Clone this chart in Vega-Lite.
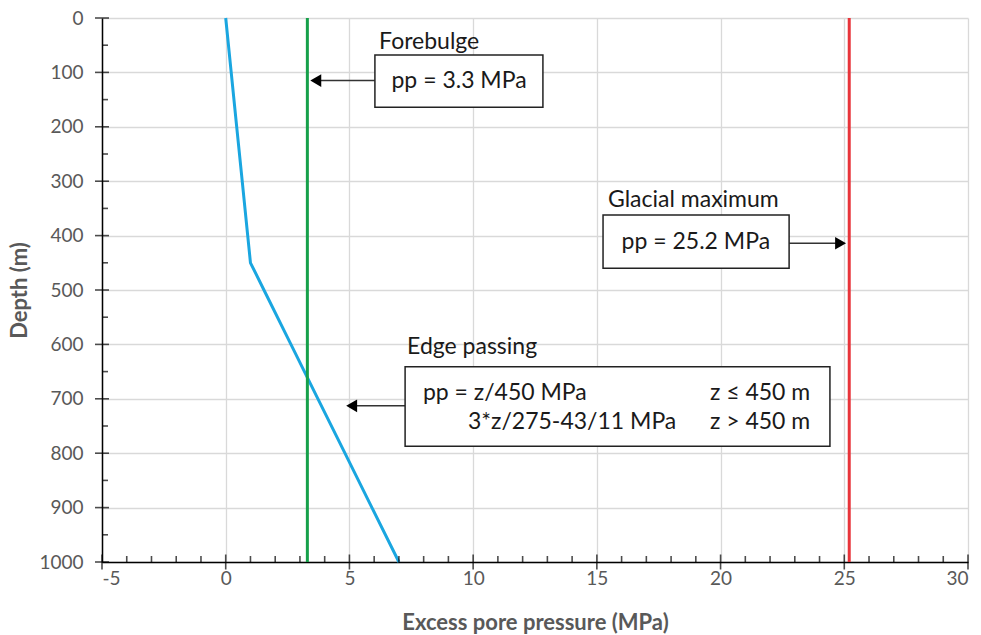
{
  "$schema": "https://vega.github.io/schema/vega-lite/v6.json",
  "width": 866,
  "height": 544,
  "autosize": {"type": "none"},
  "padding": {"left": 102, "top": 18, "right": 13, "bottom": 73},
  "background": "white",
  "config": {
    "view": {"stroke": null},
    "font": "Lato",
    "axis": {
      "domainColor": "black",
      "domainWidth": 1.5,
      "ticks": false,
      "gridColor": "#d9d9d9",
      "gridWidth": 1.3,
      "labelFont": "Lato",
      "labelFontSize": 19,
      "labelColor": "#595959",
      "labelExpr": "'' + datum.value",
      "titleFont": "Lato",
      "titleFontSize": 22,
      "titleFontWeight": "bold",
      "titleColor": "#595959"
    },
    "text": {"font": "Lato", "fontSize": 23, "color": "#1a1a1a"}
  },
  "datasets": {
    "profile": [
      {"z": 0, "pp": 0},
      {"z": 100, "pp": 0.222},
      {"z": 200, "pp": 0.444},
      {"z": 300, "pp": 0.667},
      {"z": 400, "pp": 0.889},
      {"z": 450, "pp": 1.0},
      {"z": 500, "pp": 1.545},
      {"z": 600, "pp": 2.636},
      {"z": 700, "pp": 3.727},
      {"z": 800, "pp": 4.818},
      {"z": 900, "pp": 5.909},
      {"z": 1000, "pp": 7.0}
    ],
    "xmajor": [{"v": -5}, {"v": 0}, {"v": 5}, {"v": 10}, {"v": 15}, {"v": 20}, {"v": 25}, {"v": 30}],
    "xminor": [
      {"v": -4}, {"v": -3}, {"v": -2}, {"v": -1}, {"v": 1}, {"v": 2}, {"v": 3}, {"v": 4},
      {"v": 6}, {"v": 7}, {"v": 8}, {"v": 9}, {"v": 11}, {"v": 12}, {"v": 13}, {"v": 14},
      {"v": 16}, {"v": 17}, {"v": 18}, {"v": 19}, {"v": 21}, {"v": 22}, {"v": 23}, {"v": 24},
      {"v": 26}, {"v": 27}, {"v": 28}, {"v": 29}
    ],
    "ymajor": [{"v": 0}, {"v": 100}, {"v": 200}, {"v": 300}, {"v": 400}, {"v": 500}, {"v": 600}, {"v": 700}, {"v": 800}, {"v": 900}, {"v": 1000}],
    "yminor": [{"v": 50}, {"v": 150}, {"v": 250}, {"v": 350}, {"v": 450}, {"v": 550}, {"v": 650}, {"v": 750}, {"v": 850}, {"v": 950}],
    "boxes": [
      {"x1": 6.03, "x2": 12.82, "y1": 68, "y2": 164},
      {"x1": 15.25, "x2": 22.77, "y1": 362, "y2": 460},
      {"x1": 7.25, "x2": 24.42, "y1": 641, "y2": 787}
    ],
    "leftlabels": [
      {"x": 6.2, "y": 44, "t": "Forebulge"},
      {"x": 15.45, "y": 335, "t": "Glacial maximum"},
      {"x": 7.33, "y": 605, "t": "Edge passing"},
      {"x": 7.97, "y": 689, "t": "pp = z/450 MPa"},
      {"x": 9.79, "y": 743, "t": "3*z/275-43/11 MPa"},
      {"x": 19.57, "y": 689, "t": "z ≤ 450 m"},
      {"x": 19.57, "y": 743, "t": "z > 450 m"}
    ],
    "centerlabels": [
      {"x": 9.43, "y": 116, "t": "pp = 3.3 MPa"},
      {"x": 19.0, "y": 412, "t": "pp = 25.2 MPa"}
    ],
    "arrows": [
      {"x1": 6.03, "x2": 3.64, "y": 115},
      {"x1": 22.77, "x2": 24.85, "y": 414},
      {"x1": 7.25, "x2": 5.09, "y": 713}
    ],
    "headsleft": [
      {"x": 3.64, "y": 115},
      {"x": 5.09, "y": 713}
    ],
    "headsright": [
      {"x": 24.85, "y": 414}
    ]
  },
  "layer": [
    {
      "data": {"name": "profile"},
      "mark": {"type": "line", "color": "#1aa6e0", "strokeWidth": 3},
      "encoding": {
        "x": {
          "field": "pp", "type": "quantitative",
          "scale": {"domain": [-5, 30], "nice": false, "zero": false},
          "axis": {"title": "Excess pore pressure (MPa)", "values": [-5, 0, 5, 10, 15, 20, 25, 30], "labelPadding": 7, "titlePadding": 24}
        },
        "y": {
          "field": "z", "type": "quantitative",
          "scale": {"domain": [0, 1000], "reverse": true, "nice": false},
          "axis": {"title": "Depth (m)", "values": [0, 100, 200, 300, 400, 500, 600, 700, 800, 900, 1000], "labelPadding": 19, "titlePadding": 7}
        },
        "order": {"field": "z", "type": "quantitative"}
      }
    },
    {
      "data": {"values": [{"pp": 3.3}]},
      "mark": {"type": "rule", "color": "#16a04a", "strokeWidth": 3},
      "encoding": {"x": {"field": "pp", "type": "quantitative"}}
    },
    {
      "data": {"values": [{"pp": 25.2}]},
      "mark": {"type": "rule", "color": "#e8343a", "strokeWidth": 3},
      "encoding": {"x": {"field": "pp", "type": "quantitative"}}
    },
    {
      "data": {"name": "xmajor"},
      "mark": {"type": "tick", "orient": "vertical", "color": "black", "size": 15, "thickness": 1.6},
      "encoding": {"x": {"field": "v", "type": "quantitative"}, "y": {"datum": 1000}}
    },
    {
      "data": {"name": "xminor"},
      "mark": {"type": "tick", "orient": "vertical", "color": "black", "size": 6, "thickness": 1.6, "yOffset": -3},
      "encoding": {"x": {"field": "v", "type": "quantitative"}, "y": {"datum": 1000}}
    },
    {
      "data": {"name": "ymajor"},
      "mark": {"type": "tick", "orient": "horizontal", "color": "black", "size": 14, "thickness": 1.6},
      "encoding": {"y": {"field": "v", "type": "quantitative"}, "x": {"datum": -5}}
    },
    {
      "data": {"name": "yminor"},
      "mark": {"type": "tick", "orient": "horizontal", "color": "black", "size": 6, "thickness": 1.6, "xOffset": 3},
      "encoding": {"y": {"field": "v", "type": "quantitative"}, "x": {"datum": -5}}
    },
    {
      "data": {"name": "arrows"},
      "mark": {"type": "rule", "color": "#333333", "strokeWidth": 1.5},
      "encoding": {
        "x": {"field": "x1", "type": "quantitative"},
        "x2": {"field": "x2"},
        "y": {"field": "y", "type": "quantitative"}
      }
    },
    {
      "data": {"name": "headsleft"},
      "mark": {"type": "point", "shape": "triangle-left", "filled": true, "color": "black", "size": 160, "opacity": 1},
      "encoding": {"x": {"field": "x", "type": "quantitative"}, "y": {"field": "y", "type": "quantitative"}}
    },
    {
      "data": {"name": "headsright"},
      "mark": {"type": "point", "shape": "triangle-right", "filled": true, "color": "black", "size": 160, "opacity": 1},
      "encoding": {"x": {"field": "x", "type": "quantitative"}, "y": {"field": "y", "type": "quantitative"}}
    },
    {
      "data": {"name": "boxes"},
      "mark": {"type": "rect", "fill": "white", "stroke": "#222222", "strokeWidth": 1.5},
      "encoding": {
        "x": {"field": "x1", "type": "quantitative"},
        "x2": {"field": "x2"},
        "y": {"field": "y1", "type": "quantitative"},
        "y2": {"field": "y2"}
      }
    },
    {
      "data": {"name": "leftlabels"},
      "mark": {"type": "text", "align": "left", "baseline": "middle"},
      "encoding": {
        "x": {"field": "x", "type": "quantitative"},
        "y": {"field": "y", "type": "quantitative"},
        "text": {"field": "t"}
      }
    },
    {
      "data": {"name": "centerlabels"},
      "mark": {"type": "text", "align": "center", "baseline": "middle"},
      "encoding": {
        "x": {"field": "x", "type": "quantitative"},
        "y": {"field": "y", "type": "quantitative"},
        "text": {"field": "t"}
      }
    }
  ]
}
